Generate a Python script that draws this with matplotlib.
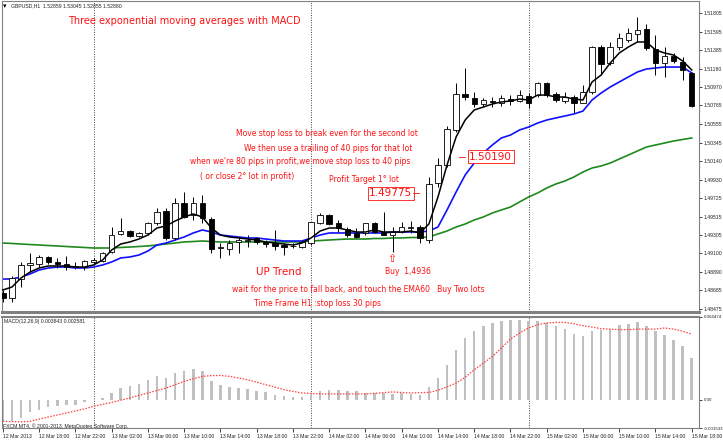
import matplotlib
matplotlib.use("Agg")
import matplotlib.pyplot as plt
import numpy as np

# GBPUSD H1, 12 Mar 2013 14:00 -> 15 Mar 2013 18:00
opens = [1.48655, 1.48599, 1.48812, 1.48970, 1.48981, 1.49060, 1.49004, 1.48981, 1.48947, 1.48947,
         1.49004, 1.49015, 1.49116, 1.49319, 1.49352, 1.49296, 1.49330, 1.49442, 1.49577, 1.49274,
         1.49667, 1.49532, 1.49667, 1.49487, 1.49161, 1.49150, 1.49229, 1.49240, 1.49274, 1.49229,
         1.49217, 1.49195, 1.49184, 1.49172, 1.49217, 1.49442, 1.49532, 1.49442, 1.49375, 1.49330,
         1.49330, 1.49442, 1.49341, 1.49307, 1.49341, 1.49386, 1.49397, 1.49251, 1.49892, 1.50095,
         1.50489, 1.50894, 1.50849, 1.50781, 1.50815, 1.50792, 1.50837, 1.50815, 1.50871, 1.50882,
         1.51017, 1.50894, 1.50815, 1.50860, 1.50792, 1.50916, 1.51422, 1.51242, 1.51422, 1.51501,
         1.51569, 1.51625, 1.51400, 1.51242, 1.51321, 1.51254, 1.51130]
highs = [1.48689, 1.48846, 1.49004, 1.49105, 1.49082, 1.49071, 1.49049, 1.49071, 1.49004, 1.49026,
         1.49049, 1.49116, 1.49397, 1.49499, 1.49364, 1.49341, 1.49454, 1.49611, 1.49611, 1.49724,
         1.49791, 1.49735, 1.49757, 1.49510, 1.49217, 1.49251, 1.49285, 1.49307, 1.49285, 1.49251,
         1.49364, 1.49217, 1.49217, 1.49251, 1.49454, 1.49555, 1.49544, 1.49476, 1.49397, 1.49386,
         1.49442, 1.49454, 1.49566, 1.49397, 1.49454, 1.49465, 1.49420, 1.49960, 1.50174, 1.50534,
         1.51017, 1.51186, 1.50916, 1.50849, 1.50860, 1.50882, 1.50882, 1.50939, 1.50905, 1.51029,
         1.51029, 1.50916, 1.50916, 1.50882, 1.50995, 1.51434, 1.51445, 1.51479, 1.51580, 1.51636,
         1.51760, 1.51681, 1.51557, 1.51422, 1.51355, 1.51310, 1.51141]
lows = [1.48554, 1.48554, 1.48722, 1.48891, 1.48947, 1.48981, 1.48936, 1.48914, 1.48925, 1.48914,
        1.48981, 1.49004, 1.49105, 1.49307, 1.49285, 1.49285, 1.49307, 1.49420, 1.49251, 1.49251,
        1.49499, 1.49476, 1.49442, 1.49105, 1.49049, 1.49082, 1.49105, 1.49172, 1.49206, 1.49172,
        1.49139, 1.49082, 1.49161, 1.49161, 1.49195, 1.49431, 1.49420, 1.49341, 1.49285, 1.49274,
        1.49307, 1.49330, 1.49307, 1.49116, 1.49330, 1.49330, 1.49217, 1.49217, 1.49847, 1.50072,
        1.50466, 1.50826, 1.50747, 1.50747, 1.50747, 1.50759, 1.50770, 1.50804, 1.50736, 1.50860,
        1.50860, 1.50804, 1.50792, 1.50680, 1.50792, 1.50894, 1.51107, 1.51220, 1.51389, 1.51479,
        1.51479, 1.51389, 1.51107, 1.51085, 1.51242, 1.51051, 1.50747]
closes = [1.48599, 1.48824, 1.48970, 1.48992, 1.49060, 1.49004, 1.48981, 1.48947, 1.48959, 1.49015,
          1.49026, 1.49105, 1.49307, 1.49352, 1.49296, 1.49330, 1.49442, 1.49566, 1.49274, 1.49667,
          1.49510, 1.49667, 1.49499, 1.49150, 1.49172, 1.49217, 1.49251, 1.49251, 1.49229, 1.49206,
          1.49184, 1.49172, 1.49189, 1.49229, 1.49454, 1.49532, 1.49431, 1.49386, 1.49307, 1.49285,
          1.49442, 1.49341, 1.49307, 1.49341, 1.49397, 1.49397, 1.49274, 1.49881, 1.50095, 1.50500,
          1.50894, 1.50860, 1.50781, 1.50826, 1.50804, 1.50849, 1.50815, 1.50882, 1.50792, 1.51017,
          1.50882, 1.50826, 1.50860, 1.50792, 1.50916, 1.51422, 1.51231, 1.51422, 1.51524, 1.51580,
          1.51614, 1.51411, 1.51242, 1.51321, 1.51265, 1.51164, 1.50759]

ema_fast = [1.48689, 1.48722, 1.48824, 1.48891, 1.48936, 1.48959, 1.48959, 1.48959, 1.48947, 1.48947,
            1.48970, 1.49026, 1.49139, 1.49206, 1.49229, 1.49262, 1.49307, 1.49386, 1.49409, 1.49465,
            1.49510, 1.49544, 1.49510, 1.49386, 1.49307, 1.49285, 1.49274, 1.49262, 1.49251, 1.49229,
            1.49217, 1.49206, 1.49195, 1.49217, 1.49274, 1.49352, 1.49386, 1.49386, 1.49364, 1.49341,
            1.49341, 1.49364, 1.49341, 1.49341, 1.49341, 1.49352, 1.49330, 1.49431, 1.49735, 1.50095,
            1.50410, 1.50601, 1.50714, 1.50747, 1.50781, 1.50804, 1.50815, 1.50837, 1.50826, 1.50882,
            1.50882, 1.50860, 1.50860, 1.50837, 1.50826, 1.51029, 1.51107, 1.51242, 1.51355, 1.51422,
            1.51479, 1.51479, 1.51389, 1.51355, 1.51332, 1.51265, 1.51164]
ema_mid = [1.48812, 1.48812, 1.48835, 1.48869, 1.48914, 1.48936, 1.48947, 1.48947, 1.48936, 1.48936,
           1.48947, 1.48970, 1.49004, 1.49049, 1.49060, 1.49082, 1.49127, 1.49195, 1.49217, 1.49251,
           1.49285, 1.49330, 1.49364, 1.49341, 1.49307, 1.49296, 1.49285, 1.49274, 1.49274, 1.49262,
           1.49251, 1.49240, 1.49240, 1.49240, 1.49274, 1.49307, 1.49330, 1.49330, 1.49330, 1.49330,
           1.49330, 1.49330, 1.49330, 1.49341, 1.49341, 1.49341, 1.49341, 1.49352, 1.49397, 1.49589,
           1.49791, 1.49982, 1.50117, 1.50230, 1.50320, 1.50399, 1.50432, 1.50489, 1.50522, 1.50567,
           1.50601, 1.50624, 1.50646, 1.50669, 1.50702, 1.50826, 1.50905, 1.50972, 1.51029, 1.51085,
           1.51141, 1.51175, 1.51186, 1.51197, 1.51197, 1.51197, 1.51130]
ema60 = [1.49217, 1.49212, 1.49206, 1.49200, 1.49195, 1.49189, 1.49184, 1.49178, 1.49172, 1.49167,
         1.49161, 1.49161, 1.49161, 1.49167, 1.49172, 1.49178, 1.49184, 1.49195, 1.49206, 1.49217,
         1.49229, 1.49234, 1.49240, 1.49234, 1.49229, 1.49229, 1.49229, 1.49229, 1.49229, 1.49229,
         1.49229, 1.49229, 1.49229, 1.49229, 1.49240, 1.49245, 1.49251, 1.49257, 1.49262, 1.49262,
         1.49262, 1.49268, 1.49268, 1.49274, 1.49274, 1.49279, 1.49279, 1.49285, 1.49319, 1.49352,
         1.49397, 1.49431, 1.49476, 1.49510, 1.49555, 1.49589, 1.49622, 1.49679, 1.49735, 1.49780,
         1.49836, 1.49881, 1.49915, 1.49960, 1.50016, 1.50061, 1.50084, 1.50117, 1.50162, 1.50207,
         1.50252, 1.50297, 1.50320, 1.50342, 1.50365, 1.50382, 1.50399]

macd = [-0.00119, -0.00117, -0.00099, -0.00065, -0.00054, -0.00041, -0.00032, -0.00027, -0.00027, -0.00015,
        -0.00002, 0.00009, 0.00036, 0.00063, 0.00072, 0.00087, 0.00104, 0.00130, 0.00117, 0.00144,
        0.00153, 0.00166, 0.00157, 0.00103, 0.00081, 0.00067, 0.00063, 0.00058, 0.00045, 0.00039,
        0.00027, 0.00018, 0.00012, 0.00012, 0.00027, 0.00045, 0.00050, 0.00054, 0.00049, 0.00045,
        0.00036, 0.00036, 0.00036, 0.00032, 0.00036, 0.00032, 0.00023, 0.00067, 0.00117, 0.00186,
        0.00271, 0.00334, 0.00370, 0.00400, 0.00415, 0.00427, 0.00433, 0.00429, 0.00424, 0.00424,
        0.00415, 0.00397, 0.00382, 0.00355, 0.00342, 0.00373, 0.00375, 0.00382, 0.00406, 0.00411,
        0.00418, 0.00400, 0.00370, 0.00348, 0.00321, 0.00288, 0.00226]
signal = [-0.00117, -0.00119, -0.00120, -0.00117, -0.00105, -0.00094, -0.00083, -0.00072, -0.00061, -0.00050,
          -0.00036, -0.00025, -0.00015, -0.00003, 0.00009, 0.00023, 0.00036, 0.00050, 0.00063, 0.00081,
          0.00099, 0.00113, 0.00126, 0.00130, 0.00131, 0.00126, 0.00117, 0.00108, 0.00095, 0.00081,
          0.00068, 0.00054, 0.00045, 0.00036, 0.00034, 0.00031, 0.00031, 0.00031, 0.00031, 0.00031,
          0.00031, 0.00034, 0.00038, 0.00042, 0.00039, 0.00036, 0.00038, 0.00039, 0.00051, 0.00069,
          0.00090, 0.00121, 0.00162, 0.00197, 0.00234, 0.00280, 0.00328, 0.00361, 0.00388, 0.00406,
          0.00415, 0.00418, 0.00418, 0.00411, 0.00400, 0.00393, 0.00384, 0.00382, 0.00379, 0.00379,
          0.00382, 0.00382, 0.00382, 0.00388, 0.00382, 0.00370, 0.00355]

price_ticks = [1.48475, 1.48685, 1.48890, 1.49100, 1.49305, 1.49515, 1.49725, 1.49930, 1.50140,
               1.50345, 1.50555, 1.50765, 1.50970, 1.51180, 1.51385, 1.51595, 1.51805]
macd_ticks = [-0.001533, 0.0, 0.004474]
macd_tick_labels = ["-0.001533", "0.00", "0.004474"]
day_separators = [10, 34, 58]

small = dict(family=["Liberation Sans", "DejaVu Sans"], size=3.7)
tiny = dict(family=["Liberation Sans", "DejaVu Sans"], size=3.2)

W, H = 723, 441
fig = plt.figure(figsize=(W / 100, H / 100), dpi=100)
fig.patch.set_facecolor("white")
ax = fig.add_axes([2 / W, 1 - 312 / H, 697 / W, 311 / H])
axm = fig.add_axes([2 / W, 1 - 428 / H, 697 / W, 111 / H])

x = np.arange(len(opens))
o = np.array(opens); c = np.array(closes)
up = c >= o

# candles
ax.vlines(x, lows, highs, color="black", lw=0.7, zorder=3)
bottom = np.minimum(o, c)
height = np.maximum(np.abs(c - o), 0.00001)
ax.bar(x[up], height[up], bottom=bottom[up], width=0.6, color="white",
       edgecolor="black", lw=0.6, zorder=4)
ax.bar(x[~up], height[~up], bottom=bottom[~up], width=0.6, color="black",
       edgecolor="black", lw=0.6, zorder=4)

ax.plot(x, ema60, color="#1e8a1e", lw=1.2, zorder=2)
ax.plot(x, ema_mid, color="#1010ff", lw=1.2, zorder=2)
ax.plot(x, ema_fast, color="black", lw=1.1, zorder=5)

for a in (ax, axm):
    for d in day_separators:
        a.axvline(d, color="#444444", lw=0.7, ls=(0, (1, 1.5)), zorder=1)
    a.set_xlim(-0.1, 76.8)
    for s in a.spines.values():
        s.set_color("#808080")
        s.set_linewidth(0.8)
    a.yaxis.tick_right()
    a.tick_params(axis="y", length=2.5, width=0.6, pad=1, colors="#222222")

ax.spines["bottom"].set_linewidth(2.2)
ax.set_ylim(1.48441, 1.51940)
ax.set_yticks(price_ticks)
ax.set_yticklabels([f"{p:.5f}" for p in price_ticks], fontdict=small)
ax.set_xticks([])

# MACD
axm.bar(x, macd, width=0.28, color="#c0c0c0", zorder=2)
axm.plot(x, signal, color="#ff4040", lw=0.9, ls=(0, (1.2, 1.2)), zorder=3)
axm.set_ylim(-0.001533, 0.004474)
axm.set_yticks(macd_ticks)
axm.set_yticklabels(macd_tick_labels, fontdict=tiny)
axm.spines["top"].set_linewidth(1.5)

tick_pos = list(range(0, 77, 4))
tick_lab = []
for i in tick_pos:
    hour = 14 + i
    if i == 0:
        tick_lab.append("12 Mar 2013")
    else:
        tick_lab.append(f"{12 + hour // 24} Mar {hour % 24:02d}:00")
axm.set_xticks(tick_pos)
axm.set_xticklabels(tick_lab, ha="left", fontdict=small)
axm.tick_params(axis="x", length=3, width=0.6, pad=1.5, colors="#222222")


def ftext(px, py, s, **kw):
    fig.text(px / W, 1 - py / H, s, **kw)


red = "#ff1010"
ftext(11, 6, "GBPUSD,H1  1.52859 1.53045 1.52855 1.52880", fontdict=small, va="center", color="#222222")
ftext(3, 6, "\u25be", fontsize=5, va="center", color="black")
ftext(4, 321, "MACD(12,26,9) 0.003843 0.002581", fontdict=small, va="center", color="#222222")
ftext(3, 426, "FXCM MT4, \u00a9 2001-2013, MetaQuotes Software Corp.", fontdict=small, va="center", color="#222222")

ftext(184, 21, "Three exponential moving averages with MACD", fontsize=7, ha="center", va="center", color=red)
ftext(327, 134, "Move stop loss to break even for the second lot", fontsize=5.5, ha="center", va="center", color=red)
ftext(328, 148, "We then use a trailing of 40 pips for that lot", fontsize=5.5, ha="center", va="center", color=red)
ftext(300, 162, "when we're 80 pips in profit,we move stop loss to 40 pips", fontsize=5.5, ha="center", va="center", color=red)
ftext(247, 176, "( or close 2\u00b0 lot in profit)", fontsize=5.5, ha="center", va="center", color=red)
ftext(364, 180, "Profit Target 1\u00b0 lot", fontsize=5.5, ha="center", va="center", color=red)
ftext(279, 272, "UP Trend", fontsize=7.5, ha="center", va="center", color=red)
ftext(408, 271, "Buy  1,4936", fontsize=5.5, ha="center", va="center", color=red)
ftext(392, 259, "\u21e7", fontsize=8, ha="center", va="center", color=red)
ftext(358, 289, "wait for the price to fall back, and touch the EMA60   Buy Two lots", fontsize=5.5, ha="center", va="center", color=red)
ftext(318, 303, "Time Frame H1 :stop loss 30 pips", fontsize=5.5, ha="center", va="center", color=red)

box = dict(boxstyle="square,pad=0.15", fc="white", ec=red, lw=0.6)
ax.text(42.8, 1.49775, "1.49775", fontsize=7.5, ha="center", va="center", color=red, bbox=box, zorder=6)
ax.plot([45.2, 45.9], [1.49775, 1.49775], color=red, lw=0.6, zorder=6)
ax.text(53.8, 1.50190, "1.50190", fontsize=7.5, ha="center", va="center", color=red, bbox=box, zorder=6)
ax.plot([50.3, 51.0], [1.50190, 1.50190], color=red, lw=0.6, zorder=6)

fig.savefig("out.png", dpi=100)
